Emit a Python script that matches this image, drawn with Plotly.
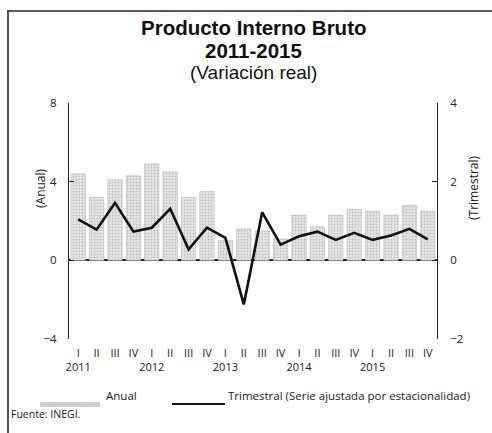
import plotly.graph_objects as go

quarters = ["I", "II", "III", "IV"]
years = ["2011", "2012", "2013", "2014", "2015"]
anual = [4.4, 3.2, 4.1, 4.3, 4.9, 4.5, 3.2, 3.5, 1.0, 1.6, 1.5, 1.1,
         2.3, 1.7, 2.3, 2.6, 2.5, 2.3, 2.8, 2.5]
trimestral = [1.04, 0.78, 1.46, 0.73, 0.83, 1.31, 0.28, 0.83, 0.57, -1.12,
              1.22, 0.40, 0.61, 0.73, 0.52, 0.70, 0.52, 0.63, 0.80, 0.53]
title_lines = ["Producto Interno Bruto", "2011-2015", "(Variación real)"]

x = list(range(len(anual)))
ticktext = []
for yi, yr in enumerate(years):
    for qi, q in enumerate(quarters):
        ticktext.append(q + "<br>" + yr if qi == 0 else q + "<br> ")

FONT = "Open Sans"
TFONT = "Liberation Sans"
W, H = 492, 433
ml, mr, mt, mb = 69, 55, 103, 94
pw, ph = W - ml - mr, H - mt - mb

def px(xp):
    return (xp - ml) / pw

def py(yp):
    return (H - mb - yp) / ph

fig = go.Figure()
fig.add_trace(go.Bar(
    x=x, y=anual, name="Anual", yaxis="y", width=0.78,
    marker=dict(color="#dcdcdc",
                line=dict(color="#b8b8b8", width=0.6),
                pattern=dict(shape=".", fgcolor="#9a9a9a", bgcolor="#e6e6e6",
                             size=3, solidity=0.3)),
    showlegend=False,
))
fig.add_trace(go.Scatter(
    x=x, y=trimestral, name="Trimestral (Serie ajustada por estacionalidad)",
    yaxis="y2", mode="lines", line=dict(color="#111111", width=2.6),
    showlegend=False,
))

fig.update_layout(
    width=W, height=H,
    margin=dict(l=ml, r=mr, t=mt, b=mb, autoexpand=False),
    paper_bgcolor="white", plot_bgcolor="white",
    font=dict(family=FONT, color="#222", size=11),
    xaxis=dict(range=[-0.5, 19.5], tickvals=x, ticktext=ticktext,
               showgrid=False, zeroline=False, showline=False, ticks="",
               tickangle=0, automargin=False, ticklabelstandoff=6,
               tickfont=dict(size=11)),
    yaxis=dict(range=[-4, 8], tickvals=[-4, 0, 4, 8], showgrid=False,
               zeroline=True, zerolinecolor="#222", zerolinewidth=1.5,
               showline=True, linecolor="#222", linewidth=1,
               ticks="inside", ticklen=5, tickcolor="#222", automargin=False,
               ticklabelstandoff=9, tickfont=dict(size=11.5)),
    yaxis2=dict(range=[-2, 4], tickvals=[-2, 0, 2, 4], overlaying="y",
                side="right", showgrid=False, zeroline=False,
                showline=True, linecolor="#222", linewidth=1, automargin=False,
                ticks="inside", ticklen=5, tickcolor="#222",
                ticklabelstandoff=10, tickfont=dict(size=11.5)),
    bargap=0.2,
)

title_specs = [
    (title_lines[0], 28, 20.5, "bold"),
    (title_lines[1], 50.5, 20.5, "bold"),
    (title_lines[2], 72.5, 19, "normal"),
]
for txt, yc, size, weight in title_specs:
    fig.add_annotation(text=txt, x=0.5, y=py(yc), xref="paper", yref="paper",
                       showarrow=False, xanchor="center", yanchor="middle", borderpad=0,
                       font=dict(size=size, color="#111", family=TFONT, weight=weight))

fig.add_annotation(text="(Anual)", x=px(40), y=py(188), xref="paper", yref="paper",
                   xanchor="center", yanchor="middle",
                   showarrow=False, textangle=-90, font=dict(size=12, color="#222"))
fig.add_annotation(text="(Trimestral)", x=px(473), y=py(188), xref="paper", yref="paper",
                   xanchor="center", yanchor="middle",
                   showarrow=False, textangle=-90, font=dict(size=12, color="#222"))

# legend
fig.add_shape(type="rect", x0=px(40), x1=px(100), y0=py(402), y1=py(407),
              xref="paper", yref="paper", fillcolor="#cfcfcf", line=dict(width=0))
fig.add_annotation(text="Anual", x=px(104), y=py(405), xref="paper", yref="paper",
                   showarrow=False, xanchor="left", font=dict(size=11.5, color="#222"))
fig.add_shape(type="line", x0=px(172), x1=px(225), y0=py(404), y1=py(404),
              xref="paper", yref="paper", line=dict(color="#111", width=1.8))
fig.add_annotation(text="Trimestral (Serie ajustada por estacionalidad)", x=px(226), y=py(405),
                   xref="paper", yref="paper", showarrow=False, xanchor="left",
                   font=dict(size=11.5, color="#222"))
fig.add_annotation(text="Fuente: INEGI.", x=px(9), y=py(423), xref="paper", yref="paper",
                   showarrow=False, xanchor="left", font=dict(size=10.5, color="#222"))

# frame
fig.add_shape(type="line", x0=px(7), x1=px(495), y0=py(11), y1=py(11),
              xref="paper", yref="paper", line=dict(color="#222", width=1.5))
fig.add_shape(type="line", x0=px(8), x1=px(8), y0=py(11), y1=py(440),
              xref="paper", yref="paper", line=dict(color="#222", width=1.5))

fig.write_html("out.html", config={"displayModeBar": False},
               post_script="document.body.style.margin='0';")
